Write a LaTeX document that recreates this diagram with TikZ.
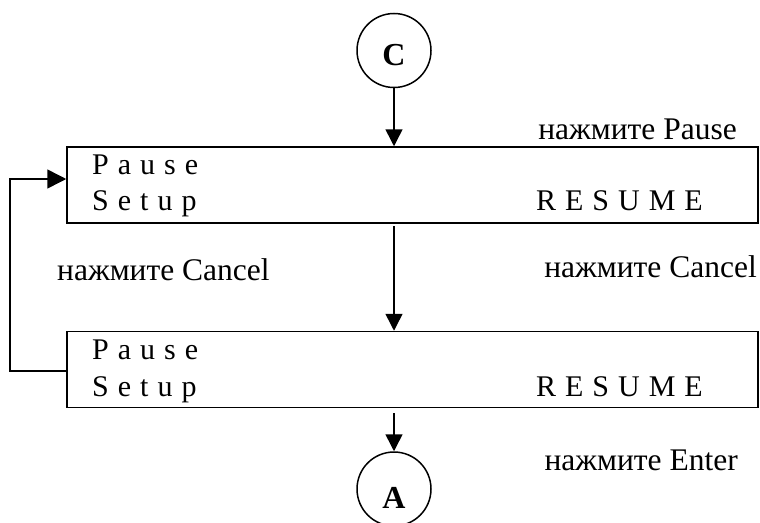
\documentclass[tikz,border=0pt]{standalone}
\usepackage{fontspec}
\setmainfont{Liberation Serif}
\usetikzlibrary{arrows.meta}
\newcommand\lgap{\hspace{9pt}}
\tikzset{
  line/.style={line width=1.5pt},
  arr/.style={line width=1.5pt, -{Triangle[length=17pt,width=17pt]}},
  panel/.style={draw, line width=1.5pt, minimum width=691pt, minimum height=76pt, inner sep=0pt},
  conn/.style={draw, circle, line width=1.5pt, minimum size=74pt, inner sep=0pt},
  boxtext/.style={anchor=base west, inner sep=0pt, font=\fontsize{30pt}{33pt}\selectfont},
  lbl/.style={inner sep=0pt, font=\fontsize{31.5pt}{34pt}\selectfont},
  ltr/.style={anchor=base, inner sep=0pt, font=\fontsize{32pt}{34pt}\selectfont\bfseries}
}
\begin{document}
\begin{tikzpicture}[x=1pt,y=-1pt]
\useasboundingbox (0,0) rectangle (760,522);
\clip (0,0) rectangle (760,522);

\node[conn] (C) at (394,50.5) {};
\node[ltr] (Ct) at (394,65) {C};

\node[panel] (b1) at (412.5,185) {};
\node[boxtext] (p1) at (92,174) {P\lgap a\lgap u\lgap s\lgap e};
\node[boxtext] (s1) at (92,210) {S\lgap e\lgap t\lgap u\lgap p};
\node[boxtext, anchor=base east] (r1) at (703,210) {R\lgap E\lgap S\lgap U\lgap M\lgap E};

\node[panel] (b2) at (412.5,369.5) {};
\node[boxtext] (p2) at (92,359) {P\lgap a\lgap u\lgap s\lgap e};
\node[boxtext] (s2) at (92,396) {S\lgap e\lgap t\lgap u\lgap p};
\node[boxtext, anchor=base east] (r2) at (703,396) {R\lgap E\lgap S\lgap U\lgap M\lgap E};

\node[conn] (A) at (394,489) {};
\node[ltr] (At) at (394,508) {A};

\node[lbl, anchor=base east] (lp) at (737,139) {нажмите Pause};
\node[lbl, anchor=base west] (lc1) at (57,280) {нажмите Cancel};
\node[lbl, anchor=base east] (lc2) at (757,277) {нажмите Cancel};
\node[lbl, anchor=base east] (le) at (738,470) {нажмите Enter};

\coordinate (m1) at (394,226);
\coordinate (m2) at (394,413);
\coordinate (fb) at (10,179);

\draw[arr] (C.south) -- (b1.north -| C.south);
\draw[arr] (m1) -- (b2.north -| m1);
\draw[arr] (m2) -- (A.north);
\draw[line, -{Triangle[length=19pt,width=19pt]}] (b2.west |- 0,371) -| (fb) -- (b1.west |- fb);
\end{tikzpicture}
\end{document}
